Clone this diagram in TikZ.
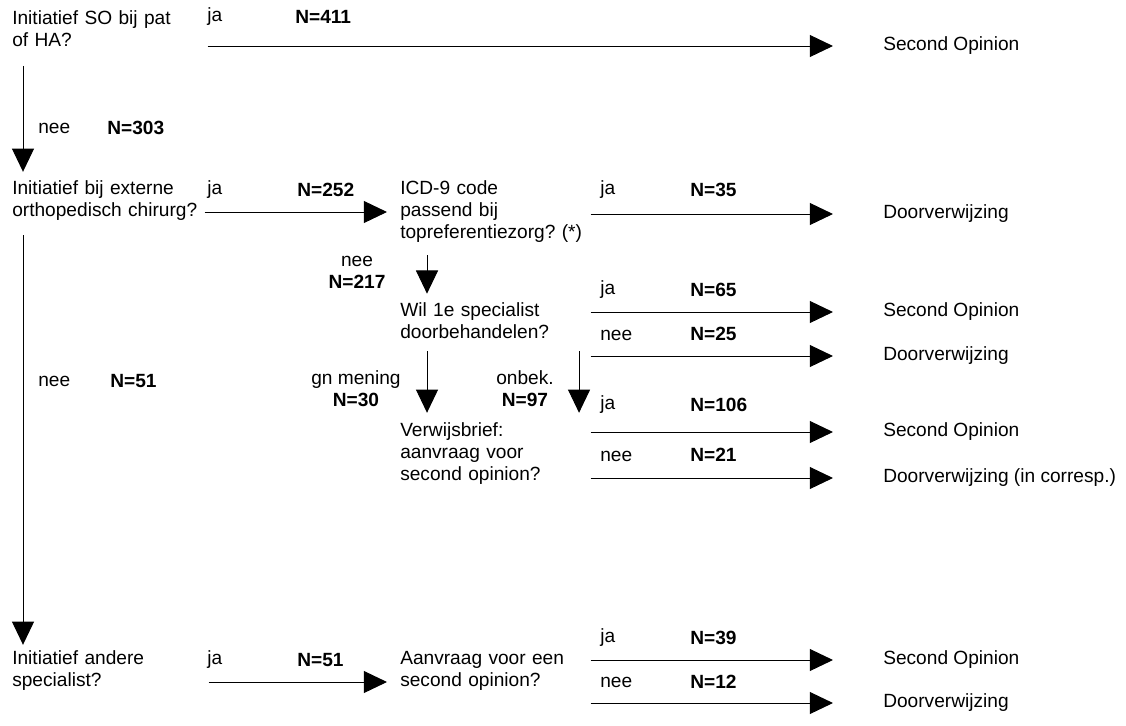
\documentclass[tikz,border=0pt]{standalone}
\usepackage{fontspec}
\setmainfont{Liberation Sans}
\usetikzlibrary{arrows.meta}
\frenchspacing
\tikzset{
every node/.style={ % Sets the font of every text
inner sep=0pt,
font=\fontsize{13.6}{15.65}\selectfont},
question/.style={ % Question blocks, left aligned
anchor=west,
align=left},
outcome/.style={anchor=west},
branch/.style={anchor=west}, % ja / nee
numlab/.style={ % Counts in bold
anchor=west,
font=\fontsize{13.6}{15.65}\selectfont\bfseries},
every edge/.style={ % Sets the properties for each transition
draw,
-{Triangle[length=0.58cm,width=0.55cm]},
line width=0.7pt},
toout/.style={shorten >=1.25cm}}

\begin{document}
\begin{tikzpicture}[x=0.025cm, y=-0.025cm]
	\useasboundingbox (0,0) rectangle (1126,725);
	% questions
	\node[question, text width=4.875cm] (qSO) at (12,28.5) {Initiatief SO bij pat\\of HA?};
	\node[question, text width=4.8cm] (qExt) at (12,201) {Initiatief bij externe\\orthopedisch chirurg?};
	\node[question, text width=4.9cm] (qSpec) at (12,671) {Initiatief andere\\specialist?};
	\node[question, text width=4.75cm] (qICD) at (400,212) {ICD-9 code\\passend bij\\topreferentiezorg? (*)};
	\node[question, text width=4.75cm] (qWil) at (400,321) {Wil 1e specialist\\doorbehandelen?};
	\node[question, text width=4.75cm] (qBrief) at (400,454) {Verwijsbrief:\\aanvraag voor\\second opinion?};
	\node[question, text width=4.75cm] (qAanv) at (400,671) {Aanvraag voor een\\second opinion?};
	% outcomes
	\node[outcome] (oSO) at (883,46) {Second Opinion};
	\node[outcome] (oICD) at (883,214) {Doorverwijzing};
	\node[outcome] (oWilJa) at (883,312) {Second Opinion};
	\node[outcome] (oWilNee) at (883,356) {Doorverwijzing};
	\node[outcome] (oBriefJa) at (883,432) {Second Opinion};
	\node[outcome] (oBriefNee) at (883,478) {Doorverwijzing (in corresp.)};
	\node[outcome] (oAanvJa) at (883,660) {Second Opinion};
	\node[outcome] (oAanvNee) at (883,703) {Doorverwijzing};
	% branch labels
	\node[branch] (bSO) at (207,17) {ja};
	\node[numlab] (nSO) at (295,17) {N=411};
	\node[branch] (bSOn) at (38,128) {nee};
	\node[numlab] (nSOn) at (107,128) {N=303};
	\node[branch] (bExt) at (207,190) {ja};
	\node[numlab] (nExt) at (297,190) {N=252};
	\node[branch] (bExtn) at (38,381) {nee};
	\node[numlab] (nExtn) at (110,381) {N=51};
	\node[branch] (bICD) at (600,190) {ja};
	\node[numlab] (nICD) at (690,190) {N=35};
	\node[align=center] (nICDn) at (357,272) {nee\\\textbf{N=217}};
	\node[branch] (bWil) at (600,290) {ja};
	\node[numlab] (nWil) at (690,290) {N=65};
	\node[branch] (bWiln) at (600,335) {nee};
	\node[numlab] (nWiln) at (690,334) {N=25};
	\node[align=center] (nWilgn) at (356,389) {gn mening\\\textbf{N=30}};
	\node[align=center] (nWilob) at (525,389) {onbek.\\\textbf{N=97}};
	\node[branch] (bBrief) at (600,405) {ja};
	\node[numlab] (nBrief) at (690,405) {N=106};
	\node[branch] (bBriefn) at (600,456) {nee};
	\node[numlab] (nBriefn) at (690,455) {N=21};
	\node[branch] (bSpec) at (207,660) {ja};
	\node[numlab] (nSpec) at (297,660) {N=51};
	\node[branch] (bAanv) at (600,638) {ja};
	\node[numlab] (nAanv) at (690,638) {N=39};
	\node[branch] (bAanvn) at (600,682) {nee};
	\node[numlab] (nAanvn) at (690,682) {N=12};
	% arrows
	\draw (qSO.east |- oSO.west) edge[toout] (oSO.west);
	\draw ([xshift=0.275cm]qSO.south west) edge[shorten <=0.475cm, shorten >=0.225cm] ([xshift=0.275cm]qExt.north west);
	\draw (qExt.east |- qICD.west) edge[shorten >=0.325cm] (qICD.west);
	\draw ([xshift=0.275cm]qExt.south west) edge[shorten <=0.35cm, shorten >=0.15cm] ([xshift=0.275cm]qSpec.north west);
	\draw ([yshift=-0.275cm]qSpec.east) edge[shorten >=0.325cm] ([yshift=-0.275cm]qAanv.west);
	\draw (qICD.east |- oICD.west) edge[toout] (oICD.west);
	\draw ([xshift=0.675cm]qICD.south west) edge[shorten <=0.3cm, shorten >=0.225cm] ([xshift=0.675cm]qWil.north west);
	\draw (qWil.east |- oWilJa.west) edge[toout] (oWilJa.west);
	\draw (qWil.east |- oWilNee.west) edge[toout] (oWilNee.west);
	\draw ([xshift=0.675cm]qWil.south west) edge[shorten <=0.3cm, shorten >=0.25cm] ([xshift=0.675cm]qBrief.north west);
	\draw ([xshift=4.475cm]qWil.south west) edge[shorten <=0.3cm, shorten >=0.25cm] ([xshift=4.475cm]qBrief.north west);
	\draw (qBrief.east |- oBriefJa.west) edge[toout] (oBriefJa.west);
	\draw (qBrief.east |- oBriefNee.west) edge[toout] (oBriefNee.west);
	\draw (qAanv.east |- oAanvJa.west) edge[toout] (oAanvJa.west);
	\draw (qAanv.east |- oAanvNee.west) edge[toout] (oAanvNee.west);
\end{tikzpicture}
\end{document}
